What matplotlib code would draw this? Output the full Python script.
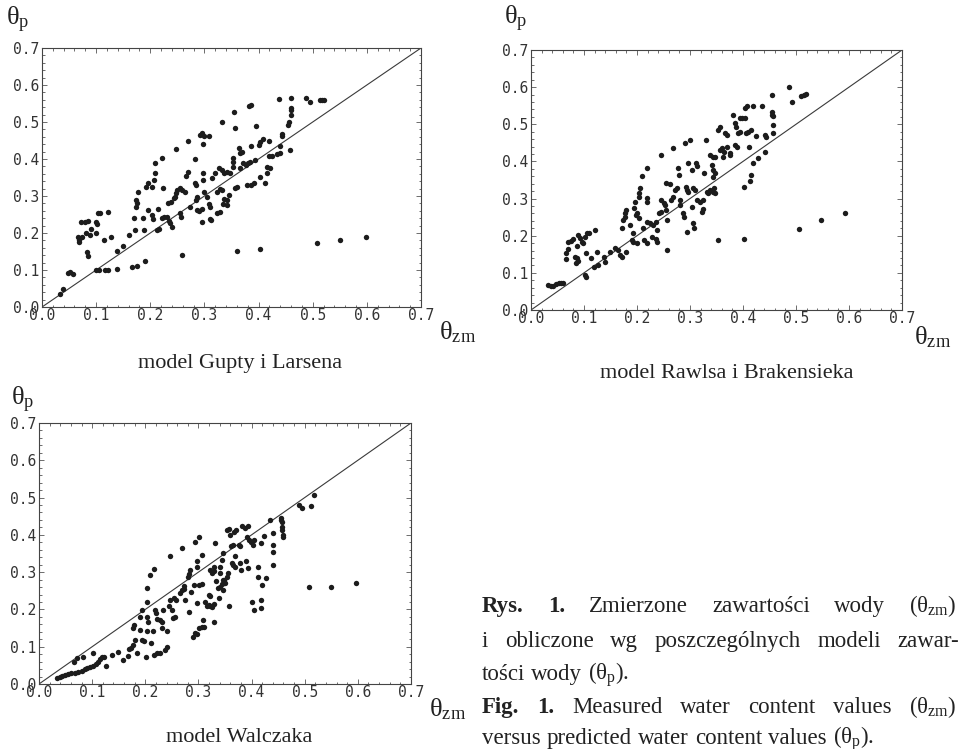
import numpy as np
import matplotlib.pyplot as plt
from matplotlib.ticker import MultipleLocator, FormatStrFormatter

plt.rcParams['mathtext.fontset'] = 'custom'
plt.rcParams['mathtext.rm'] = 'Liberation Serif'
plt.rcParams['mathtext.it'] = 'Liberation Serif:italic'
plt.rcParams['mathtext.bf'] = 'Liberation Serif:bold'

# measured vs predicted water content
gupta_x = [0.034, 0.039, 0.048, 0.052, 0.058, 0.067, 0.069, 0.073, 0.068, 0.072,
           0.079, 0.085, 0.082, 0.088, 0.084, 0.085, 0.091, 0.100, 0.101, 0.104,
           0.108, 0.122, 0.100, 0.100, 0.106, 0.116, 0.122, 0.114, 0.127, 0.138,
           0.150, 0.139, 0.160, 0.166, 0.175, 0.170, 0.171, 0.174, 0.176, 0.178,
           0.173, 0.190, 0.188, 0.187, 0.192, 0.196, 0.204, 0.195, 0.206, 0.209,
           0.204, 0.205, 0.209, 0.213, 0.217, 0.215, 0.221, 0.221, 0.225, 0.230,
           0.223, 0.233, 0.238, 0.235, 0.237, 0.240, 0.243, 0.246, 0.248, 0.250,
           0.248, 0.255, 0.258, 0.255, 0.256, 0.258, 0.266, 0.269, 0.269, 0.264,
           0.274, 0.282, 0.283, 0.285, 0.285, 0.287, 0.286, 0.290, 0.295, 0.292,
           0.295, 0.300, 0.308, 0.297, 0.297, 0.297, 0.295, 0.300, 0.305, 0.309,
           0.310, 0.310, 0.312, 0.314, 0.320, 0.326, 0.323, 0.328, 0.323, 0.328,
           0.333, 0.332, 0.337, 0.342, 0.347, 0.332, 0.337, 0.342, 0.335, 0.342,
           0.345, 0.354, 0.357, 0.353, 0.353, 0.353, 0.357, 0.361, 0.363, 0.366,
           0.369, 0.366, 0.360, 0.372, 0.377, 0.381, 0.385, 0.379, 0.386, 0.382,
           0.386, 0.386, 0.392, 0.394, 0.396, 0.400, 0.403, 0.409, 0.403, 0.403,
           0.412, 0.416, 0.422, 0.419, 0.425, 0.416, 0.419, 0.434, 0.440, 0.437,
           0.443, 0.443, 0.440, 0.454, 0.456, 0.459, 0.459, 0.459, 0.459, 0.458,
           0.488, 0.495, 0.513, 0.518, 0.521, 0.508, 0.550, 0.598]
gupta_y = [0.036, 0.050, 0.092, 0.095, 0.089, 0.190, 0.180, 0.190, 0.176, 0.230,
           0.230, 0.232, 0.199, 0.195, 0.149, 0.137, 0.210, 0.230, 0.224, 0.253,
           0.255, 0.257, 0.199, 0.100, 0.100, 0.100, 0.100, 0.180, 0.190, 0.152,
           0.164, 0.103, 0.194, 0.107, 0.110, 0.240, 0.208, 0.289, 0.280, 0.312,
           0.271, 0.124, 0.208, 0.240, 0.323, 0.334, 0.325, 0.262, 0.343, 0.361,
           0.248, 0.239, 0.388, 0.208, 0.210, 0.264, 0.402, 0.240, 0.244, 0.242,
           0.322, 0.280, 0.284, 0.233, 0.226, 0.217, 0.294, 0.297, 0.309, 0.316,
           0.427, 0.321, 0.316, 0.253, 0.244, 0.140, 0.354, 0.366, 0.449, 0.312,
           0.271, 0.399, 0.336, 0.330, 0.289, 0.298, 0.262, 0.260, 0.264, 0.465,
           0.470, 0.461, 0.463, 0.440, 0.361, 0.343, 0.230, 0.312, 0.298, 0.278,
           0.271, 0.239, 0.235, 0.348, 0.361, 0.375, 0.312, 0.318, 0.253, 0.257,
           0.499, 0.370, 0.363, 0.366, 0.363, 0.316, 0.291, 0.289, 0.278, 0.276,
           0.303, 0.526, 0.483, 0.402, 0.393, 0.379, 0.321, 0.325, 0.429, 0.416,
           0.420, 0.375, 0.151, 0.388, 0.384, 0.388, 0.393, 0.330, 0.330, 0.544,
           0.546, 0.434, 0.336, 0.397, 0.488, 0.438, 0.447, 0.453, 0.157, 0.352,
           0.336, 0.379, 0.375, 0.408, 0.408, 0.361, 0.450, 0.413, 0.416, 0.562,
           0.461, 0.468, 0.434, 0.492, 0.501, 0.519, 0.533, 0.537, 0.566, 0.423,
           0.566, 0.554, 0.560, 0.560, 0.560, 0.173, 0.182, 0.190]

rawls_x = [0.033, 0.037, 0.042, 0.047, 0.052, 0.056, 0.060, 0.066, 0.066, 0.069,
           0.070, 0.075, 0.080, 0.083, 0.086, 0.089, 0.085, 0.086, 0.089, 0.092,
           0.102, 0.096, 0.099, 0.102, 0.104, 0.103, 0.106, 0.110, 0.114, 0.119,
           0.121, 0.124, 0.127, 0.138, 0.140, 0.149, 0.158, 0.165, 0.167, 0.171,
           0.171, 0.174, 0.177, 0.180, 0.177, 0.179, 0.187, 0.190, 0.193, 0.193,
           0.194, 0.196, 0.199, 0.200, 0.204, 0.200, 0.204, 0.204, 0.206, 0.209,
           0.212, 0.213, 0.218, 0.218, 0.218, 0.219, 0.218, 0.224, 0.228, 0.231,
           0.235, 0.237, 0.235, 0.237, 0.242, 0.246, 0.246, 0.246, 0.250, 0.253,
           0.255, 0.255, 0.256, 0.256, 0.262, 0.265, 0.268, 0.267, 0.272, 0.275,
           0.278, 0.280, 0.281, 0.282, 0.286, 0.289, 0.290, 0.300, 0.292, 0.295,
           0.297, 0.297, 0.295, 0.303, 0.303, 0.306, 0.309, 0.306, 0.307, 0.311,
           0.314, 0.314, 0.319, 0.324, 0.322, 0.325, 0.326, 0.331, 0.333, 0.334,
           0.338, 0.338, 0.343, 0.347, 0.342, 0.344, 0.344, 0.347, 0.343, 0.345,
           0.347, 0.353, 0.356, 0.353, 0.356, 0.360, 0.363, 0.364, 0.366, 0.369,
           0.369, 0.375, 0.376, 0.382, 0.385, 0.387, 0.385, 0.388, 0.391, 0.394,
           0.394, 0.399, 0.404, 0.404, 0.407, 0.419, 0.402, 0.402, 0.405, 0.410,
           0.412, 0.414, 0.416, 0.416, 0.419, 0.424, 0.429, 0.435, 0.441, 0.443,
           0.441, 0.454, 0.454, 0.454, 0.456, 0.456, 0.456, 0.487, 0.492, 0.510,
           0.515, 0.519, 0.505, 0.547, 0.593]
rawls_y = [0.067, 0.065, 0.065, 0.069, 0.072, 0.074, 0.074, 0.136, 0.154, 0.163,
           0.184, 0.187, 0.190, 0.144, 0.139, 0.133, 0.126, 0.171, 0.202, 0.193,
           0.197, 0.184, 0.180, 0.093, 0.090, 0.153, 0.206, 0.208, 0.139, 0.117,
           0.215, 0.157, 0.121, 0.144, 0.130, 0.157, 0.166, 0.162, 0.148, 0.144,
           0.220, 0.242, 0.260, 0.268, 0.251, 0.157, 0.229, 0.188, 0.184, 0.206,
           0.274, 0.292, 0.256, 0.260, 0.305, 0.180, 0.247, 0.314, 0.328, 0.361,
           0.220, 0.188, 0.180, 0.382, 0.301, 0.292, 0.238, 0.233, 0.197, 0.229,
           0.238, 0.215, 0.190, 0.184, 0.260, 0.265, 0.417, 0.296, 0.289, 0.283,
           0.269, 0.341, 0.162, 0.242, 0.339, 0.296, 0.305, 0.435, 0.323, 0.328,
           0.382, 0.364, 0.296, 0.283, 0.260, 0.251, 0.449, 0.458, 0.332, 0.323,
           0.319, 0.395, 0.211, 0.377, 0.278, 0.328, 0.323, 0.233, 0.220, 0.395,
           0.388, 0.296, 0.292, 0.296, 0.265, 0.271, 0.368, 0.458, 0.319, 0.314,
           0.323, 0.417, 0.413, 0.413, 0.390, 0.377, 0.359, 0.368, 0.319, 0.328,
           0.314, 0.485, 0.494, 0.189, 0.431, 0.435, 0.413, 0.426, 0.476, 0.471,
           0.440, 0.422, 0.417, 0.525, 0.503, 0.494, 0.444, 0.440, 0.476, 0.478,
           0.516, 0.516, 0.516, 0.543, 0.548, 0.549, 0.332, 0.190, 0.476, 0.480,
           0.440, 0.346, 0.364, 0.485, 0.395, 0.469, 0.408, 0.548, 0.471, 0.465,
           0.426, 0.579, 0.534, 0.525, 0.521, 0.498, 0.476, 0.600, 0.561, 0.575,
           0.579, 0.582, 0.217, 0.242, 0.260]

walczak_x = [0.034, 0.039, 0.044, 0.049, 0.055, 0.061, 0.067, 0.074, 0.080, 0.086,
             0.091, 0.096, 0.102, 0.107, 0.111, 0.115, 0.126, 0.065, 0.072, 0.082,
             0.101, 0.118, 0.122, 0.138, 0.149, 0.159, 0.168, 0.170, 0.174, 0.177,
             0.176, 0.179, 0.181, 0.185, 0.190, 0.193, 0.190, 0.193, 0.198, 0.201,
             0.203, 0.204, 0.206, 0.203, 0.204, 0.208, 0.210, 0.216, 0.215, 0.216,
             0.222, 0.228, 0.218, 0.220, 0.222, 0.227, 0.231, 0.231, 0.233, 0.237,
             0.240, 0.240, 0.244, 0.247, 0.247, 0.250, 0.252, 0.254, 0.258, 0.256,
             0.269, 0.266, 0.269, 0.272, 0.272, 0.275, 0.281, 0.283, 0.284, 0.283,
             0.286, 0.291, 0.290, 0.294, 0.298, 0.294, 0.302, 0.297, 0.298, 0.298,
             0.302, 0.306, 0.311, 0.302, 0.306, 0.306, 0.308, 0.313, 0.316, 0.319,
             0.322, 0.325, 0.329, 0.319, 0.322, 0.322, 0.325, 0.329, 0.329, 0.330,
             0.332, 0.334, 0.336, 0.338, 0.340, 0.341, 0.341, 0.344, 0.346, 0.349,
             0.344, 0.347, 0.347, 0.350, 0.354, 0.355, 0.354, 0.360, 0.357, 0.357,
             0.361, 0.365, 0.363, 0.365, 0.368, 0.369, 0.366, 0.371, 0.376, 0.379,
             0.378, 0.380, 0.382, 0.388, 0.393, 0.390, 0.393, 0.391, 0.395, 0.398,
             0.403, 0.401, 0.404, 0.405, 0.413, 0.413, 0.417, 0.417, 0.418, 0.420,
             0.423, 0.428, 0.435, 0.441, 0.441, 0.441, 0.441, 0.455, 0.456, 0.458,
             0.458, 0.458, 0.460, 0.460, 0.489, 0.495, 0.511, 0.517, 0.508, 0.549,
             0.596]
walczak_y = [0.017, 0.020, 0.021, 0.024, 0.027, 0.029, 0.030, 0.032, 0.036, 0.039,
             0.042, 0.045, 0.048, 0.054, 0.060, 0.066, 0.048, 0.060, 0.069, 0.073,
             0.082, 0.073, 0.072, 0.078, 0.087, 0.064, 0.075, 0.093, 0.096, 0.105,
             0.150, 0.159, 0.118, 0.084, 0.181, 0.199, 0.145, 0.118, 0.114, 0.073,
             0.181, 0.143, 0.167, 0.221, 0.257, 0.293, 0.109, 0.308, 0.141, 0.078,
             0.082, 0.084, 0.199, 0.190, 0.174, 0.172, 0.167, 0.150, 0.199, 0.091,
             0.100, 0.141, 0.208, 0.226, 0.342, 0.199, 0.176, 0.230, 0.226, 0.179,
             0.364, 0.244, 0.252, 0.254, 0.263, 0.226, 0.288, 0.295, 0.306, 0.194,
             0.248, 0.266, 0.127, 0.136, 0.134, 0.382, 0.394, 0.329, 0.315, 0.217,
             0.150, 0.152, 0.154, 0.266, 0.269, 0.346, 0.172, 0.221, 0.208, 0.211,
             0.208, 0.206, 0.215, 0.239, 0.235, 0.306, 0.297, 0.315, 0.302, 0.165,
             0.378, 0.275, 0.257, 0.230, 0.315, 0.297, 0.260, 0.269, 0.279, 0.279,
             0.333, 0.351, 0.251, 0.270, 0.288, 0.297, 0.414, 0.400, 0.415, 0.208,
             0.369, 0.373, 0.324, 0.320, 0.315, 0.344, 0.409, 0.414, 0.373, 0.369,
             0.324, 0.306, 0.423, 0.418, 0.423, 0.329, 0.311, 0.394, 0.387, 0.382,
             0.373, 0.221, 0.199, 0.387, 0.315, 0.288, 0.378, 0.226, 0.203, 0.266,
             0.397, 0.285, 0.440, 0.405, 0.373, 0.355, 0.320, 0.445, 0.440, 0.435,
             0.422, 0.413, 0.400, 0.395, 0.481, 0.472, 0.478, 0.508, 0.260, 0.261,
             0.270]

ticks = [0.0, 0.1, 0.2, 0.3, 0.4, 0.5, 0.6, 0.7]
panel_titles = ['model Gupty i Larsena', 'model Rawlsa i Brakensieka', 'model Walczaka']

W, H = 963, 749
fig = plt.figure(figsize=(W / 100, H / 100), dpi=100)
serif = 'Liberation Serif'


def fx(x):
    return x / W


def fy(y):
    return 1 - y / H


def panel(box, xs, ys):
    l, t, r, b = box
    ax = fig.add_axes([fx(l), fy(b), (r - l) / W, (b - t) / H])
    ax.scatter(xs, ys, s=15, c='#1c1c1c', lw=0, zorder=3)
    ax.axline((0, 0), slope=1, color='#3a3a3a', lw=0.8, zorder=2)
    ax.set_xlim(0, 0.7)
    ax.set_ylim(0, 0.7)
    ax.set_xticks(ticks)
    ax.set_yticks(ticks)
    ax.xaxis.set_major_formatter(FormatStrFormatter('%.1f'))
    ax.yaxis.set_major_formatter(FormatStrFormatter('%.1f'))
    ax.xaxis.set_minor_locator(MultipleLocator(0.02))
    ax.yaxis.set_minor_locator(MultipleLocator(0.02))
    ax.tick_params(which='both', direction='in', top=True, right=True,
                   color='#555555', width=0.6)
    ax.tick_params(which='major', length=3.5)
    ax.tick_params(which='minor', length=1.8)
    ax.tick_params(axis='x', pad=1)
    ax.tick_params(axis='y', pad=2)
    for lab in ax.get_xticklabels() + ax.get_yticklabels():
        lab.set_family('DejaVu Sans Mono')
        lab.set_fontsize(10.5)
        lab.set_color('#333333')
    for sp in ax.spines.values():
        sp.set_color('#444444')
        sp.set_linewidth(0.8)
    return ax


panel((42, 48, 421, 307), gupta_x, gupta_y)
panel((531, 50, 902, 310), rawls_x, rawls_y)
panel((39, 423, 411, 684), walczak_x, walczak_y)

th_p = r'$\mathrm{θ}_{\mathrm{p}}$'
th_zm = r'$\mathrm{θ}_{\mathrm{zm}}$'
for (x, y) in [(18, 20), (516, 19), (23, 400)]:
    fig.text(fx(x), fy(y), th_p, fontsize=19, ha='center', va='center', color='#222222')
for (x, y) in [(458, 332), (933, 337), (448, 709)]:
    fig.text(fx(x), fy(y), th_zm, fontsize=19, ha='center', va='center', color='#222222')

for title, (x, y) in zip(panel_titles, [(240, 368), (727, 378), (239, 742)]):
    fig.text(fx(x), fy(y), title, fontsize=16, family=serif, ha='center',
             va='baseline', color='#222222')

# figure caption, justified like the printed page
renderer = fig.canvas.get_renderer()


def line(parts, y, x0, x1=None):
    objs = []
    for s, w in parts:
        objs.append(fig.text(fx(x0), fy(y), s, fontsize=16.5, family=serif,
                             fontweight=w, va='baseline', color='#222222'))
    widths = [o.get_window_extent(renderer).width for o in objs]
    if x1 is None:
        gap = 6
    else:
        gap = ((x1 - x0) - sum(widths)) / (len(objs) - 1)
    x = x0
    for o, wd in zip(objs, widths):
        o.set_x(fx(x))
        x += wd + gap


def words(s, w='normal'):
    return [(p, w) for p in s.split()]


line(words('Rys. 1.', 'bold') + words('Zmierzone zawartości wody (' + th_zm + ')'),
     612, 482, 957)
line(words('i obliczone wg poszczególnych modeli zawar-'), 647, 482, 959)
line(words('tości wody (' + th_p + ').'), 680, 482)
line(words('Fig. 1.', 'bold') + words('Measured water content values (' + th_zm + ')'),
     713, 482, 957)
line(words('versus predicted water content values (' + th_p + ').'), 744, 482)

fig.savefig('out.png', dpi=100, facecolor='white')
